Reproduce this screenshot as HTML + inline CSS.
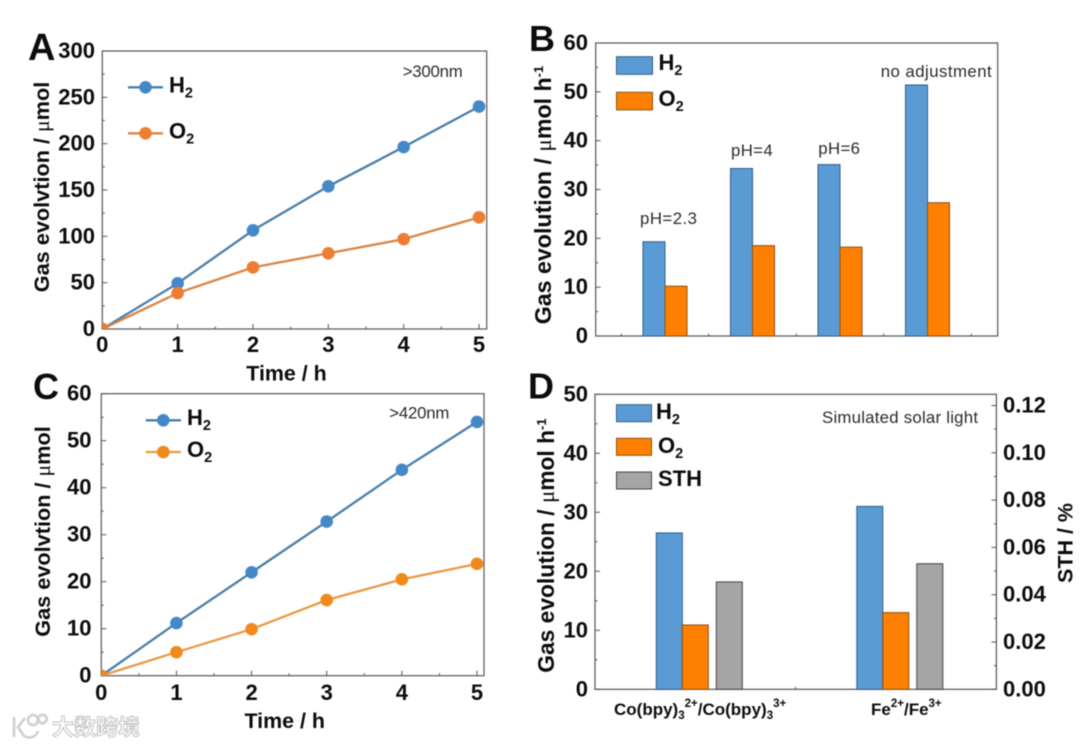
<!DOCTYPE html>
<html lang="en">
<head>
<meta charset="utf-8">
<title>Gas evolution charts</title>
<style>
html,body{margin:0;padding:0;background:#fff;width:1080px;height:746px;overflow:hidden}
svg{display:block;filter:blur(0.5px)}
text{font-family:"Liberation Sans","Noto Sans CJK SC",sans-serif;fill:#0c0c0c}
.b{font-weight:bold}
.u{font-family:"Liberation Serif",serif;font-weight:normal}
.ann{fill:#2a2a2a;font-size:16.8px}
.wm{font-family:"Liberation Sans","Noto Sans CJK SC",sans-serif;font-size:22px;font-weight:bold;fill:#fff;stroke:#c4c4c4;stroke-width:1}
</style>
</head>
<body>
<svg id="fig" xmlns="http://www.w3.org/2000/svg" width="1080" height="746" viewBox="0 0 1080 746">
<rect x="0" y="0" width="1080" height="746" fill="#fff"/>
<defs>
<clipPath id="clipA"><rect x="102.3" y="51" width="384.4" height="278"/></clipPath>
<clipPath id="clipC"><rect x="101.3" y="393.7" width="382.7" height="282"/></clipPath>
</defs>

<g id="panelA">
<text class="b" x="28" y="60" font-size="38">A</text>
<text class="b" font-size="21.7" text-anchor="middle" transform="translate(49,187) rotate(-90)">Gas evolvtion / <tspan class="u">μ</tspan>mol</text>
<text class="b" font-size="21.4" text-anchor="middle" x="286.5" y="380.5">Time / h</text>
<text class="ann" x="402.7" y="77" textLength="60">&gt;300nm</text>
<g>
<line x1="128" y1="87.3" x2="163" y2="87.3" stroke="#4a7ea8" stroke-width="2.3"/>
<circle cx="145.5" cy="87.3" r="6.3" fill="#4488c8"/>
<text class="b" x="169" y="92.5" font-size="22">H<tspan font-size="14.5" dy="5">2</tspan></text>
<line x1="128" y1="133.3" x2="163" y2="133.3" stroke="#d98545" stroke-width="2.3"/>
<circle cx="145.5" cy="133.3" r="6.3" fill="#ed7d31"/>
<text class="b" x="169" y="138.5" font-size="22">O<tspan font-size="14.5" dy="5">2</tspan></text>
</g>
</g>

<g id="panelB">
<text class="b" x="529" y="51" font-size="36">B</text>
<text class="b" font-size="23.2" text-anchor="middle" transform="translate(551,195) rotate(-90)">Gas evolution / <tspan class="u">μ</tspan>mol h<tspan font-size="13" dy="-8">-1</tspan></text>
<text class="ann" x="640" y="224" textLength="57">pH=2.3</text>
<text class="ann" x="731" y="156" textLength="41.7">pH=4</text>
<text class="ann" x="818.3" y="154" textLength="41.7">pH=6</text>
<text class="ann" x="880.7" y="77" textLength="111">no adjustment</text>
<g>
<rect x="616.5" y="56.7" width="36" height="17.6" fill="#5b9bd5" stroke="#2f5d87"/>
<text class="b" x="658.5" y="70" font-size="22">H<tspan font-size="14.5" dy="5">2</tspan></text>
<rect x="616.5" y="92.3" width="36" height="17.6" fill="#ff8000" stroke="#8a5010"/>
<text class="b" x="658.5" y="106" font-size="22">O<tspan font-size="14.5" dy="5">2</tspan></text>
</g>
</g>

<g id="panelC">
<text class="b" x="33" y="399" font-size="36">C</text>
<text class="b" font-size="21.7" text-anchor="middle" transform="translate(50,531.5) rotate(-90)">Gas evolvtion / <tspan class="u">μ</tspan>mol</text>
<text class="b" font-size="21.4" text-anchor="middle" x="284.7" y="728">Time / h</text>
<text class="ann" x="389.3" y="418.7" textLength="60">&gt;420nm</text>
<g>
<line x1="145.7" y1="420.3" x2="181" y2="420.3" stroke="#4a7ea8" stroke-width="2.3"/>
<circle cx="163.3" cy="420.3" r="6.3" fill="#4488c8"/>
<text class="b" x="187" y="425" font-size="22">H<tspan font-size="14.5" dy="5">2</tspan></text>
<line x1="145.7" y1="452" x2="181" y2="452" stroke="#ea9a45" stroke-width="2.3"/>
<circle cx="163.3" cy="452" r="6.3" fill="#f08a1d"/>
<text class="b" x="187" y="457" font-size="22">O<tspan font-size="14.5" dy="5">2</tspan></text>
</g>
</g>

<g id="panelD">
<text class="b" x="528" y="398.5" font-size="36">D</text>
<text class="b" font-size="22.8" text-anchor="middle" transform="translate(554,545.6) rotate(-90)">Gas evolution / <tspan class="u">μ</tspan>mol h<tspan font-size="13" dy="-8">-1</tspan></text>
<text class="b" font-size="21.5" text-anchor="middle" transform="translate(1072.5,543) rotate(-90)">STH / %</text>
<text class="ann" x="822" y="423" textLength="156">Simulated solar light</text>
<text class="b" font-size="17" x="614" y="715">Co(bpy)<tspan font-size="11.5" dy="4">3</tspan><tspan font-size="11.5" dy="-12">2+</tspan><tspan dy="8">/Co(bpy)</tspan><tspan font-size="11.5" dy="4">3</tspan><tspan font-size="11.5" dy="-12">3+</tspan></text>
<text class="b" font-size="17" x="871" y="715">Fe<tspan font-size="11.5" dy="-8">2+</tspan><tspan dy="8">/Fe</tspan><tspan font-size="11.5" dy="-8">3+</tspan></text>
<g>
<rect x="616.5" y="404.7" width="35" height="17" fill="#5b9bd5" stroke="#2f5d87"/>
<text class="b" x="656" y="419" font-size="22">H<tspan font-size="14.5" dy="5">2</tspan></text>
<rect x="616.5" y="438.3" width="35" height="17" fill="#ff8000" stroke="#8a5010"/>
<text class="b" x="658" y="453" font-size="22">O<tspan font-size="14.5" dy="5">2</tspan></text>
<rect x="616.5" y="472" width="35" height="17" fill="#a5a5a5" stroke="#444"/>
<text class="b" x="658" y="486" font-size="22">STH</text>
</g>
</g>

<g>
<g fill="none" stroke="#cfcfcf" stroke-width="2.6">
<line x1="14" y1="717" x2="14" y2="737"/>
<path d="M25 718 L18 727 L24 736 C30 739 36 737 38 731"/>
<circle cx="33" cy="720" r="5"/>
<circle cx="42.5" cy="719" r="4.2"/>
</g>
<text class="wm" x="52" y="735" textLength="88">大数跨境</text>
</g>
</svg>

<script>
const timeValues = [0, 1, 2, 3, 4, 5];
const timeTickLabels = ['0', '1', '2', '3', '4', '5'];

const panelAH2 = [0, 49.3, 106.5, 154, 196.4, 240];
const panelAO2 = [0, 38.8, 66.5, 81.7, 97, 120.5];
const panelATicks = [0, 50, 100, 150, 200, 250, 300];

const panelCH2 = [0, 11.2, 22, 32.8, 43.8, 54];
const panelCO2 = [0, 5, 9.9, 16.1, 20.5, 23.8];
const panelCTicks = [0, 10, 20, 30, 40, 50, 60];

const panelBCategories = ['pH=2.3', 'pH=4', 'pH=6', 'no adjustment'];
const panelBH2 = [19.3, 34.3, 35.1, 51.4];
const panelBO2 = [10.2, 18.5, 18.2, 27.3];
const panelBTicks = [0, 10, 20, 30, 40, 50, 60];

const panelDCategories = ['Co(bpy)3', 'Fe'];
const panelDH2 = [26.5, 31.0];
const panelDO2 = [10.9, 13.0];
const panelDSTH = [0.0454, 0.0531];
const panelDTicks = [0, 10, 20, 30, 40, 50];
const panelDRightTicks = ['0.00', '0.02', '0.04', '0.06', '0.08', '0.10', '0.12'];

const NS = 'http://www.w3.org/2000/svg';
const AXIS = '#555';

function linear(d0, d1, r0, r1) {
  return function (v) { return r0 + (v - d0) * (r1 - r0) / (d1 - d0); };
}
function make(tag, attrs, parent) {
  const e = document.createElementNS(NS, tag);
  for (const k in attrs) e.setAttribute(k, attrs[k]);
  parent.appendChild(e);
  return e;
}
function tick(parent, x1, y1, x2, y2, name) {
  const t = make('line', { x1: x1, y1: y1, x2: x2, y2: y2, stroke: AXIS, 'stroke-width': 1 }, parent);
  
  
}
function label(parent, x, y, str, anchor, size, name) {
  const t = make('text', { x: x, y: y, 'text-anchor': anchor, 'font-size': size, 'class': 'b' }, parent);
  t.textContent = str;
  
  
}
function frame(parent, f) {
  const r = make('rect', { x: f.l, y: f.t, width: f.r - f.l, height: f.b - f.t, fill: 'none', stroke: AXIS, 'stroke-width': 1.2 }, parent);
  
  
}
function yAxis(parent, ticks, scale, axisX, labelX, dir, anchor, prefix, texts) {
  ticks.forEach(function (v, i) {
    tick(parent, axisX, scale(v), axisX + dir * 5, scale(v), prefix + '-major-tick');
    label(parent, labelX, scale(v) + 7, texts ? texts[i] : String(v), anchor, 22, prefix + '-tick-label');
    if (i < ticks.length - 1) {
      const m = (v + ticks[i + 1]) / 2;
      tick(parent, axisX, scale(m), axisX + dir * 2.5, scale(m), prefix + '-minor-tick');
    }
  });
}
function xAxisTime(parent, xs, axisY, labelY, prefix) {
  timeValues.forEach(function (v, i) {
    tick(parent, xs(v), axisY, xs(v), axisY - 5, prefix + '-major-tick');
    label(parent, xs(v), labelY, timeTickLabels[i], 'middle', 22, prefix + '-tick-label');
    if (i < timeValues.length - 1) {
      tick(parent, xs(v + 0.5), axisY, xs(v + 0.5), axisY - 2.5, prefix + '-minor-tick');
    }
  });
}
function series(parent, xs, ys, values, lineColor, markerColor, clip, name) {
  const g = make('g', { 'clip-path': 'url(#' + clip + ')' }, parent);
  
  
  const pts = values.map(function (v, i) { return xs(timeValues[i]) + ',' + ys(v); }).join(' ');
  const pl = make('polyline', { points: pts, fill: 'none', stroke: lineColor, 'stroke-width': 2.3 }, g);
  
  
  values.forEach(function (v, i) {
    const c = make('circle', { cx: xs(timeValues[i]), cy: ys(v), r: 6.3, fill: markerColor }, g);
    
    
  });
}
function bar(parent, x0, x1, y0, y1, fill, stroke, name) {
  const b = make('rect', { x: x0, y: y1, width: x1 - x0, height: y0 - y1, fill: fill, stroke: stroke, 'stroke-width': 1 }, parent);
  
  
}

/* Panel A */
(function () {
  const p = document.getElementById('panelA');
  const f = { l: 102.3, r: 486.7, t: 51, b: 329 };
  const xs = linear(0, 5, 102.3, 479);
  const ys = linear(0, 300, f.b, f.t);
  yAxis(p, panelATicks, ys, f.l, 95, 1, 'end', 'panel-a-y');
  xAxisTime(p, xs, f.b, 352, 'panel-a-x');
  frame(p, f);
  series(p, xs, ys, panelAH2, '#4a7ea8', '#4488c8', 'clipA', 'h2');
  series(p, xs, ys, panelAO2, '#d98545', '#ed7d31', 'clipA', 'o2');
})();

/* Panel C */
(function () {
  const p = document.getElementById('panelC');
  const f = { l: 101.3, r: 484, t: 393.7, b: 675.7 };
  const xs = linear(0, 5, 101.3, 477);
  const ys = linear(0, 60, f.b, f.t);
  yAxis(p, panelCTicks, ys, f.l, 91.5, 1, 'end', 'panel-c-y');
  xAxisTime(p, xs, f.b, 700, 'panel-c-x');
  frame(p, f);
  series(p, xs, ys, panelCH2, '#4a7ea8', '#4488c8', 'clipC', 'h2');
  series(p, xs, ys, panelCO2, '#ea9a45', '#f08a1d', 'clipC', 'o2');
})();

/* Panel B */
(function () {
  const p = document.getElementById('panelB');
  const f = { l: 595.7, r: 997.7, t: 43, b: 336 };
  const xs = linear(0, 1, 665, 752.5);
  const ys = linear(0, 60, f.b, f.t);
  yAxis(p, panelBTicks, ys, f.l, 588, 1, 'end', 'panel-b-y');
  for (let i = 0; i <= panelBCategories.length; i++) {
    tick(p, xs(i - 0.5), f.b, xs(i - 0.5), f.b - 2.5, 'panel-b-x-minor-tick');
  }
  frame(p, f);
  panelBCategories.forEach(function (c, i) {
    bar(p, xs(i) - 22, xs(i), f.b, ys(panelBH2[i]), '#5b9bd5', '#2f5d87', 'h2-bar');
    bar(p, xs(i), xs(i) + 22, f.b, ys(panelBO2[i]), '#ff8000', '#8a5010', 'o2-bar');
  });
})();

/* Panel D */
(function () {
  const p = document.getElementById('panelD');
  const f = { l: 595, r: 996.4, t: 394.3, b: 689.3 };
  const xs = linear(0, 1, 695.3, 895.8);
  const ys = linear(0, 50, f.b, f.t);
  const yr = linear(0, 0.12, f.b, 405.5);
  yAxis(p, panelDTicks, ys, f.l, 588, 1, 'end', 'panel-d-left-y');
  const rightVals = panelDRightTicks.map(Number);
  yAxis(p, rightVals, yr, f.r, 1003, -1, 'start', 'panel-d-right-y', panelDRightTicks);
  tick(p, xs(0.5), f.b, xs(0.5), f.b - 2.5, 'panel-d-x-minor-tick');
  frame(p, f);
  panelDCategories.forEach(function (c, i) {
    bar(p, xs(i) - 39, xs(i) - 13, f.b, ys(panelDH2[i]), '#5b9bd5', '#2f5d87', 'h2-bar');
    bar(p, xs(i) - 13, xs(i) + 13, f.b, ys(panelDO2[i]), '#ff8000', '#8a5010', 'o2-bar');
    bar(p, xs(i) + 21, xs(i) + 47, f.b, yr(panelDSTH[i]), '#a5a5a5', '#444', 'sth-bar');
  });
})();
</script>
</body>
</html>
